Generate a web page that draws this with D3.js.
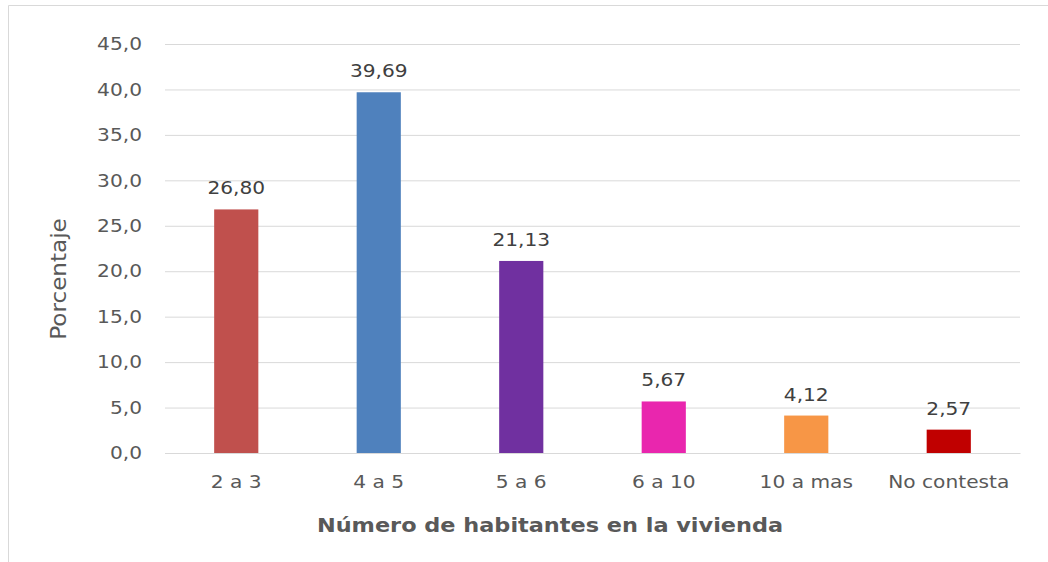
<!DOCTYPE html>
<html>
<head>
<meta charset="utf-8">
<script src="https://cdn.jsdelivr.net/npm/d3@7"></script>
<style>
	body { margin: 0; background: #fff; }
	text { font-family: "DejaVu Sans", Verdana, sans-serif; }
</style>
</head>
<body>
<svg id="chart" width="1048" height="562"></svg>
<script>
// data
const categories = ["2 a 3", "4 a 5", "5 a 6", "6 a 10", "10 a mas", "No contesta"];
const values = [26.80, 39.69, 21.13, 5.67, 4.12, 2.57];
const barColors = ["#C0504D", "#4F81BD", "#7030A0", "#E926AE", "#F79646", "#C00000"];
const yTicks = [0, 5, 10, 15, 20, 25, 30, 35, 40, 45];

const svg = d3.select("#chart");
const margin = {left: 165, right: 28, top: 44, bottom: 109};
const width = 1048, height = 562;
// the source picture looks a bit wider than tall, stretch texts to match
const sx = 1.12;

// frame of the chart area (left and top edges visible)
svg.append("path")
	.attr("d", "M8.5,562 V5.5 H1048")
	.attr("fill", "none")
	.attr("stroke", "#d9d9d9");

const x = d3.scaleBand()
	.domain(categories)
	.range([margin.left, width - margin.right])
	.paddingInner(0.69)
	.paddingOuter(0.345);

const y = d3.scaleLinear()
	.domain([0, 45])
	.range([height - margin.bottom, margin.top]);

const fmt = v => d3.format(".1f")(v).replace(".", ",");
const fmt2 = v => d3.format(".2f")(v).replace(".", ",");

// gridlines + y labels
const yAxis = d3.axisLeft(y)
	.tickValues(yTicks)
	.tickSize(-(width - margin.left - margin.right))
	.tickPadding(23)
	.tickFormat(fmt);

const gy = svg.append("g")
	.attr("transform", `translate(${margin.left},0)`)
	.call(yAxis);
gy.select(".domain").remove();
gy.selectAll("line").attr("stroke", "#d9d9d9");
gy.selectAll("text")
	.attr("fill", "#595959")
	.style("font-size", "18px")
	.attr("x", function() { return +d3.select(this).attr("x") / sx; })
	.attr("transform", `scale(${sx},1)`);

// bars
svg.append("g").selectAll("rect")
	.data(values)
	.join("rect")
	.attr("x", (d, i) => x(categories[i]))
	.attr("width", x.bandwidth())
	.attr("y", d => y(d))
	.attr("height", d => y(0) - y(d))
	.attr("fill", (d, i) => barColors[i]);

// value labels
svg.append("g").selectAll("text")
	.data(values)
	.join("text")
	.attr("transform", (d, i) =>
		`translate(${x(categories[i]) + x.bandwidth() / 2},${y(d) - 15}) scale(${sx},1)`)
	.attr("text-anchor", "middle")
	.attr("fill", "#404040")
	.style("font-size", "18px")
	.text(fmt2);

// x axis labels
const xAxis = d3.axisBottom(x).tickSize(0).tickPadding(22);
const gx = svg.append("g")
	.attr("transform", `translate(0,${height - margin.bottom})`)
	.call(xAxis);
gx.select(".domain").attr("stroke", "#d9d9d9");
gx.selectAll("text")
	.attr("fill", "#595959")
	.style("font-size", "18px")
	.attr("transform", `scale(${sx},1)`);

// axis titles
svg.append("text")
	.attr("transform", `translate(550,532) scale(${sx},1)`)
	.attr("text-anchor", "middle")
	.attr("fill", "#595959")
	.style("font-size", "20px")
	.style("font-weight", "bold")
	.text("Número de habitantes en la vivienda");

svg.append("text")
	.attr("transform", "translate(66,279) rotate(-90) scale(1.1,1)")
	.attr("text-anchor", "middle")
	.attr("fill", "#595959")
	.style("font-size", "21px")
	.text("Porcentaje");
</script>
</body>
</html>
